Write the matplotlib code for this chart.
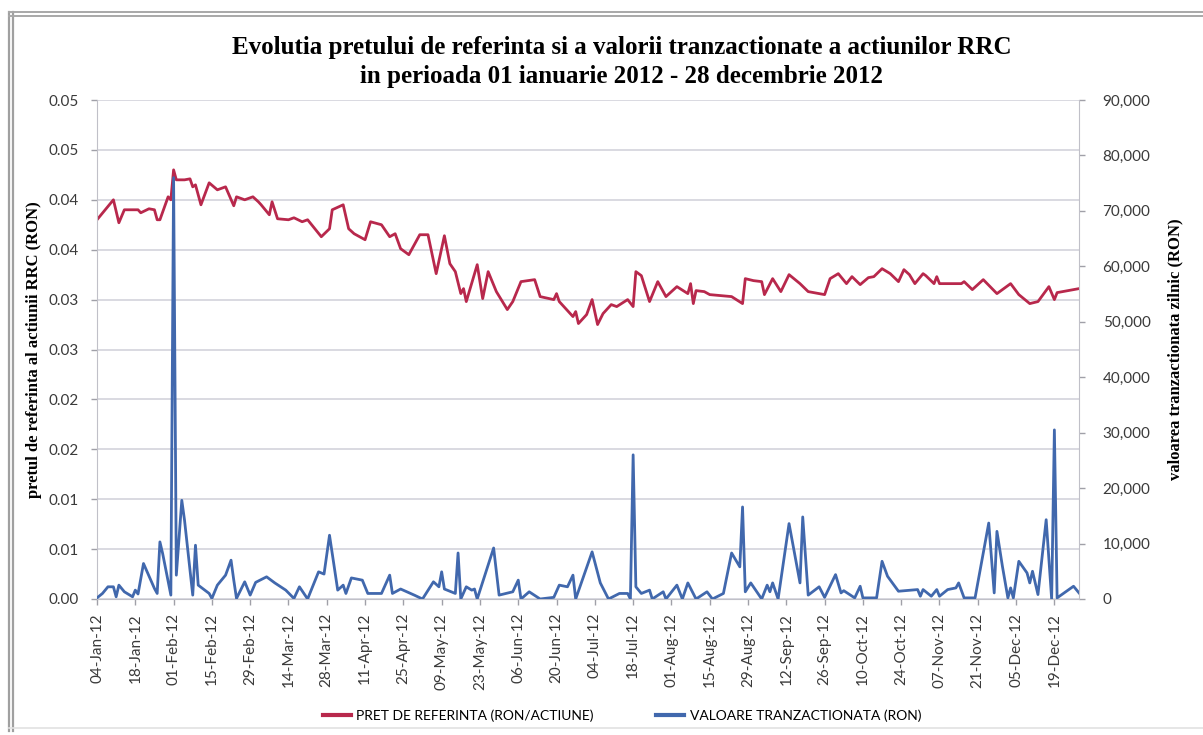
import numpy as np
import pandas as pd
import matplotlib
matplotlib.use('Agg')
import matplotlib.pyplot as plt
import matplotlib.dates as mdates
from matplotlib.lines import Line2D

# pretul de referinta (RON/actiune): zi din an (0 = 01-ian-2012) si valoare
price_day = [3, 9, 11, 13, 18, 19, 22, 24, 25, 26, 29, 30,
             31, 32, 35, 37, 38, 39, 41, 44, 47, 50, 53, 54, 57,
             60, 62, 63, 66, 67, 69, 73, 75, 78, 80, 85, 88, 89,
             93, 95, 97, 101, 103, 107, 110, 112, 114, 117,
             121, 124, 127, 130, 132, 134, 136, 137, 138, 142, 144, 146, 149,
             153, 155, 158, 163, 165, 170, 171, 172, 177, 178, 179,
             182, 184, 186, 188, 191, 193, 197, 199, 200, 202, 205, 208, 211,
             215, 219, 220, 221, 222, 225, 227, 235, 239, 240, 243,
             246, 247, 250, 253, 256, 260, 263, 269, 271, 274,
             277, 279, 282, 285, 287, 290, 293, 296, 298, 300, 302, 305,
             306, 309, 310, 311, 319, 320, 323, 327, 332,
             337, 340, 344, 347, 351, 353, 354, 362]
price_val = [0.0380, 0.0400, 0.0377, 0.0390, 0.0390, 0.0387, 0.0391, 0.0390, 0.0380, 0.0380, 0.0403, 0.0400,
             0.0430, 0.0420, 0.0420, 0.0421, 0.0413, 0.0415, 0.0395, 0.0417, 0.0410, 0.0413, 0.0394, 0.0403, 0.0400,
             0.0403, 0.0398, 0.0395, 0.0385, 0.0398, 0.0381, 0.0380, 0.0382, 0.0378, 0.0380, 0.0363, 0.0371, 0.0390,
             0.0395, 0.0371, 0.0366, 0.0360, 0.0378, 0.0375, 0.0363, 0.0366, 0.0351, 0.0345,
             0.0365, 0.0365, 0.0326, 0.0364, 0.0336, 0.0328, 0.0306, 0.0311, 0.0298, 0.0335, 0.0301, 0.0328, 0.0308,
             0.0290, 0.0298, 0.0318, 0.0320, 0.0303, 0.0300, 0.0306, 0.0298, 0.0283, 0.0288, 0.0276,
             0.0285, 0.0300, 0.0275, 0.0286, 0.0295, 0.0293, 0.0300, 0.0293, 0.0328, 0.0324, 0.0298, 0.0318, 0.0303,
             0.0313, 0.0306, 0.0316, 0.0296, 0.0309, 0.0308, 0.0305, 0.0303, 0.0296, 0.0321, 0.0319,
             0.0318, 0.0305, 0.0321, 0.0308, 0.0325, 0.0316, 0.0308, 0.0305, 0.0321, 0.0326,
             0.0316, 0.0323, 0.0315, 0.0322, 0.0323, 0.0331, 0.0326, 0.0318, 0.0330, 0.0325, 0.0316, 0.0326,
             0.0324, 0.0316, 0.0323, 0.0316, 0.0316, 0.0318, 0.0310, 0.0320, 0.0306,
             0.0316, 0.0305, 0.0296, 0.0298, 0.0313, 0.0300, 0.0307, 0.0311]

# valoarea tranzactionata zilnic (RON)
volume_day = [3, 5, 7, 9, 10, 11, 13, 16, 17, 18, 20, 24, 25, 26, 27, 30,
              31, 32, 34, 35, 38, 39, 40, 44, 45, 47, 50, 52, 53, 54, 57, 59,
              61, 65, 68, 72, 75, 77, 80, 84, 86, 88,
              91, 93, 94, 96, 100, 102, 107, 110, 111, 114, 119,
              122, 126, 128, 129, 130, 134, 135, 136, 138, 140, 141, 142, 148, 150,
              155, 157, 158, 161, 165, 170, 172, 175, 177, 178, 184, 187, 190,
              194, 197, 198, 199, 200, 202, 205, 206, 210, 211, 215, 217, 219,
              222, 226, 228, 232, 235, 238, 239, 240, 242, 246, 248, 249, 250, 252,
              256, 260, 261, 263, 267, 269, 273, 275, 276, 280, 282, 283,
              288, 290, 292, 296, 303, 304, 305, 308, 310, 311, 314, 317, 318, 320, 324,
              327, 329, 331, 332, 334, 336, 337, 338, 340, 343, 344, 345, 347,
              350, 352, 353, 354, 360, 362]
volume_val = [200, 1000, 2200, 2200, 400, 2500, 1300, 400, 1600, 900, 6400, 1900, 1000, 10300, 8200, 700,
              76000, 4300, 17800, 14200, 700, 9700, 2500, 1000, 100, 2500, 4300, 7000, 3400, 100, 3100, 700,
              3000, 4000, 2900, 1600, 100, 2200, 0, 4900, 4500, 11500,
              1600, 2500, 1000, 3800, 3400, 1000, 1000, 4300, 1000, 1800, 700,
              0, 3100, 2200, 4900, 1800, 1000, 8300, 0, 2200, 1600, 1800, 0, 9200, 700,
              1300, 3400, 0, 1300, 0, 300, 2500, 2200, 4300, 0, 8500, 2900, 0,
              1000, 1000, 0, 26000, 2200, 1000, 1600, 0, 1300, 0, 2500, 0, 2900,
              0, 1300, 0, 1000, 8300, 5800, 16600, 1300, 2900, 0, 2500, 1300, 2900, 0,
              13600, 2900, 14800, 700, 2200, 300, 4400, 1100, 1500, 200, 2300, 200,
              200, 6800, 4100, 1400, 1700, 500, 1700, 500, 1700, 500, 1700, 2000, 2900, 200, 200,
              8300, 13700, 1100, 12200, 5900, 200, 2000, 200, 6800, 4700, 2900, 5000, 800,
              14300, 0, 30500, 200, 2300, 1100]

left_ticks = [0.0, 0.005, 0.01, 0.015, 0.02, 0.025, 0.03, 0.035, 0.04, 0.045, 0.05]
left_tick_labels = ['0.00', '0.01', '0.01', '0.02', '0.02', '0.03', '0.03', '0.04', '0.04', '0.05', '0.05']
right_ticks = [0, 10000, 20000, 30000, 40000, 50000, 60000, 70000, 80000, 90000]
right_tick_labels = ['0', '10,000', '20,000', '30,000', '40,000', '50,000', '60,000', '70,000', '80,000', '90,000']

title = ('Evolutia pretului de referinta si a valorii tranzactionate a actiunilor RRC\n'
         'in perioada 01 ianuarie 2012 - 28 decembrie 2012')
label_left = 'pretul de referinta al actiunii RRC (RON)'
label_right = 'valoarea tranzactionata zilnic (RON)'
legend_labels = ['PRET DE REFERINTA (RON/ACTIUNE)', 'VALOARE TRANZACTIONATA (RON)']

red = '#b8284c'
blue = '#4168ad'
grid_col = '#d0d0d8'
tick_col = '#3a3a3a'

start = pd.Timestamp('2012-01-01')
price_dates = start + pd.to_timedelta(price_day, unit='D')
volume_dates = start + pd.to_timedelta(volume_day, unit='D')

plt.rcParams['font.family'] = ['Lato', 'DejaVu Sans']

W, H = 1203, 735
fig = plt.figure(figsize=(W / 100, H / 100), dpi=100)
ax = fig.add_axes([97 / W, 1 - 599 / H, (1079 - 97) / W, (599 - 100) / H])
ax2 = ax.twinx()

ax.plot(price_dates, price_val, color=red, lw=2.0, solid_joinstyle='round')
ax2.plot(volume_dates, volume_val, color=blue, lw=2.0, solid_joinstyle='round')

ax.set_ylim(0, 0.05)
ax2.set_ylim(0, 90000)
ax.set_xlim(pd.Timestamp('2012-01-04'), pd.Timestamp('2012-12-28'))

ax.set_yticks(left_ticks)
ax.set_yticklabels(left_tick_labels)
ax2.set_yticks(right_ticks)
ax2.set_yticklabels(right_tick_labels)

ax.set_xticks(pd.date_range('2012-01-04', '2012-12-19', freq='14D'))
ax.xaxis.set_major_formatter(mdates.DateFormatter('%d-%b-%y'))
plt.setp(ax.get_xticklabels(), rotation=90)

ax.grid(axis='y', color=grid_col, lw=1.1)
ax.set_axisbelow(True)

for a in (ax, ax2):
    for s in a.spines.values():
        s.set_visible(False)
    a.tick_params(colors='#a0a0a8', labelcolor=tick_col, labelsize=11, length=4, width=1)
ax.spines['left'].set_visible(True)
ax.spines['left'].set_color('#c0c0c8')
ax.spines['bottom'].set_visible(True)
ax.spines['bottom'].set_color('#c0c0c8')
ax2.spines['right'].set_visible(True)
ax2.spines['right'].set_color('#c0c0c8')
ax.tick_params(axis='y', pad=9)
ax2.tick_params(axis='y', pad=13)
ax.tick_params(axis='x', pad=6)

ax.set_ylabel(label_left, family='Liberation Serif', fontweight='bold', fontsize=12,
              color='black', labelpad=5)
ax2.set_ylabel(label_right, family='Liberation Serif', fontweight='bold', fontsize=12,
               color='black', labelpad=12)

fig.text(622 / W, 1 - 62 / H, title, ha='center', va='center', family='Liberation Serif',
         fontweight='bold', fontsize=18, linespacing=1.35)

handles = [Line2D([], [], color=red, lw=3), Line2D([], [], color=blue, lw=3)]
fig.legend(handles, legend_labels, loc='center', bbox_to_anchor=(622 / W, 1 - 716 / H),
           ncol=2, frameon=False, fontsize=10, handlelength=2.0, handletextpad=0.4,
           columnspacing=4.5)

# chenarul scanat: linie dubla in stanga si sus, linie slaba jos
for xf in (9 / W, 13 / W):
    fig.add_artist(Line2D([xf, xf], [4 / H, 1 - 12 / H], transform=fig.transFigure,
                          color='#a0a0a0', lw=1.6))
for yf in (1 - 12 / H, 1 - 16 / H):
    fig.add_artist(Line2D([9 / W, 1], [yf, yf], transform=fig.transFigure,
                          color='#a8a8a8', lw=1.4))
fig.add_artist(Line2D([9 / W, 1], [1 - 728 / H, 1 - 728 / H], transform=fig.transFigure,
                      color='#e2e2e2', lw=1.2))

fig.savefig('out.png', dpi=100)
